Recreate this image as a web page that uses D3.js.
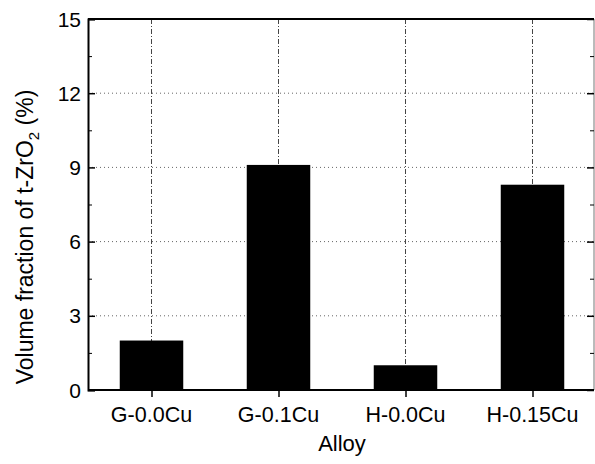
<!DOCTYPE html>
<html>
<head>
<meta charset="utf-8">
<script src="https://cdn.jsdelivr.net/npm/d3@7"></script>
<style>
  body { margin: 0; background: #fff; }
  svg text { font-family: "Liberation Sans", Arial, sans-serif; fill: #000; }
</style>
</head>
<body>
<svg id="chart" width="595" height="464"></svg>
<script>
// Alloys and t-ZrO2 volume fractions (%)
const alloys = ["G-0.0Cu", "G-0.1Cu", "H-0.0Cu", "H-0.15Cu"];
const fractions = [2.0, 9.1, 1.0, 8.3];
const yTicks = [0, 3, 6, 9, 12, 15];
const yMinorTicks = [1.5, 4.5, 7.5, 10.5, 13.5];

const svg = d3.select("#chart");
const plotLeft = 88, plotRight = 594, plotTop = 19, plotBottom = 390;

// categories sit at positions 1..4 on a linear axis from 0.5 to 4.5
const x = d3.scaleLinear().domain([0.5, 4.5]).range([plotLeft, plotLeft + 508]);
const y = d3.scaleLinear().domain([0, 15]).range([plotBottom, plotTop]);
const barHalf = 0.25;

// horizontal dotted grid
svg.append("g").selectAll("line")
  .data(yTicks.filter(t => t > 0 && t < 15))
  .join("line")
  .attr("x1", plotLeft).attr("x2", plotRight)
  .attr("y1", d => y(d)).attr("y2", d => y(d))
  .attr("stroke", "#666").attr("stroke-width", 1)
  .attr("stroke-dasharray", "1,3");

// vertical dash-dot grid at each category
svg.append("g").selectAll("line")
  .data(alloys)
  .join("line")
  .attr("x1", (d, i) => x(i + 1)).attr("x2", (d, i) => x(i + 1))
  .attr("y1", plotTop).attr("y2", plotBottom)
  .attr("stroke", "#444").attr("stroke-width", 1)
  .attr("stroke-dasharray", "5,2,1,2");

// bars
svg.append("g").selectAll("rect")
  .data(fractions)
  .join("rect")
  .attr("x", (d, i) => x(i + 1 - barHalf))
  .attr("width", (d, i) => x(i + 1 + barHalf) - x(i + 1 - barHalf))
  .attr("y", d => y(d))
  .attr("height", d => plotBottom - y(d))
  .attr("fill", "#000");

// frame
svg.append("line").attr("x1", plotLeft).attr("x2", plotRight).attr("y1", plotTop).attr("y2", plotTop)
  .attr("stroke", "#000").attr("stroke-width", 2);
svg.append("line").attr("x1", plotRight).attr("x2", plotRight).attr("y1", plotTop).attr("y2", plotBottom)
  .attr("stroke", "#777").attr("stroke-width", 1);

// left axis: ticks pointing inward
const yAxis = d3.axisRight(y).tickValues(yTicks).tickSize(7).tickFormat("");
const gy = svg.append("g").attr("transform", `translate(${plotLeft},0)`).call(yAxis);
gy.select(".domain").attr("stroke-width", 2);
gy.selectAll(".tick line").attr("stroke-width", 1.5);
svg.append("g").attr("transform", `translate(${plotLeft},0)`)
  .call(d3.axisRight(y).tickValues(yMinorTicks).tickSize(4).tickFormat(""))
  .call(g => g.select(".domain").remove());

// right side ticks pointing inward
svg.append("g").attr("transform", `translate(${plotRight},0)`)
  .call(d3.axisLeft(y).tickValues(yTicks).tickSize(7).tickFormat(""))
  .call(g => g.select(".domain").remove())
  .call(g => g.selectAll(".tick line").attr("stroke-width", 1.5));
svg.append("g").attr("transform", `translate(${plotRight},0)`)
  .call(d3.axisLeft(y).tickValues(yMinorTicks).tickSize(4).tickFormat(""))
  .call(g => g.select(".domain").remove());

// y tick labels
svg.append("g").selectAll("text")
  .data(yTicks)
  .join("text")
  .attr("x", plotLeft - 7)
  .attr("y", d => y(d))
  .attr("dy", "0.36em")
  .attr("text-anchor", "end")
  .attr("font-size", 21)
  .text(d => d);

// bottom axis
const xAxis = d3.axisBottom(x).tickValues([1, 2, 3, 4]).tickSize(7).tickFormat("");
const gx = svg.append("g").attr("transform", `translate(0,${plotBottom})`).call(xAxis);
gx.select(".domain").attr("d", `M${plotLeft},0H${plotRight}`).attr("stroke-width", 2);
gx.selectAll(".tick line").attr("stroke-width", 1.5);

svg.append("g").selectAll("text")
  .data(alloys)
  .join("text")
  .attr("x", (d, i) => x(i + 1))
  .attr("y", 421.5)
  .attr("text-anchor", "middle")
  .attr("font-size", 21.5)
  .text(d => d);

// axis titles
svg.append("text")
  .attr("x", 342)
  .attr("y", 451)
  .attr("text-anchor", "middle")
  .attr("font-size", 22)
  .text("Alloy");

const yTitle = svg.append("text")
  .attr("transform", `translate(33,237) rotate(-90)`)
  .attr("text-anchor", "middle")
  .attr("font-size", 23);
yTitle.append("tspan").text("Volume fraction of t-ZrO");
yTitle.append("tspan").attr("font-size", 15).attr("dy", 6).text("2");
yTitle.append("tspan").attr("dy", -6).text(" (%)");
</script>
</body>
</html>
